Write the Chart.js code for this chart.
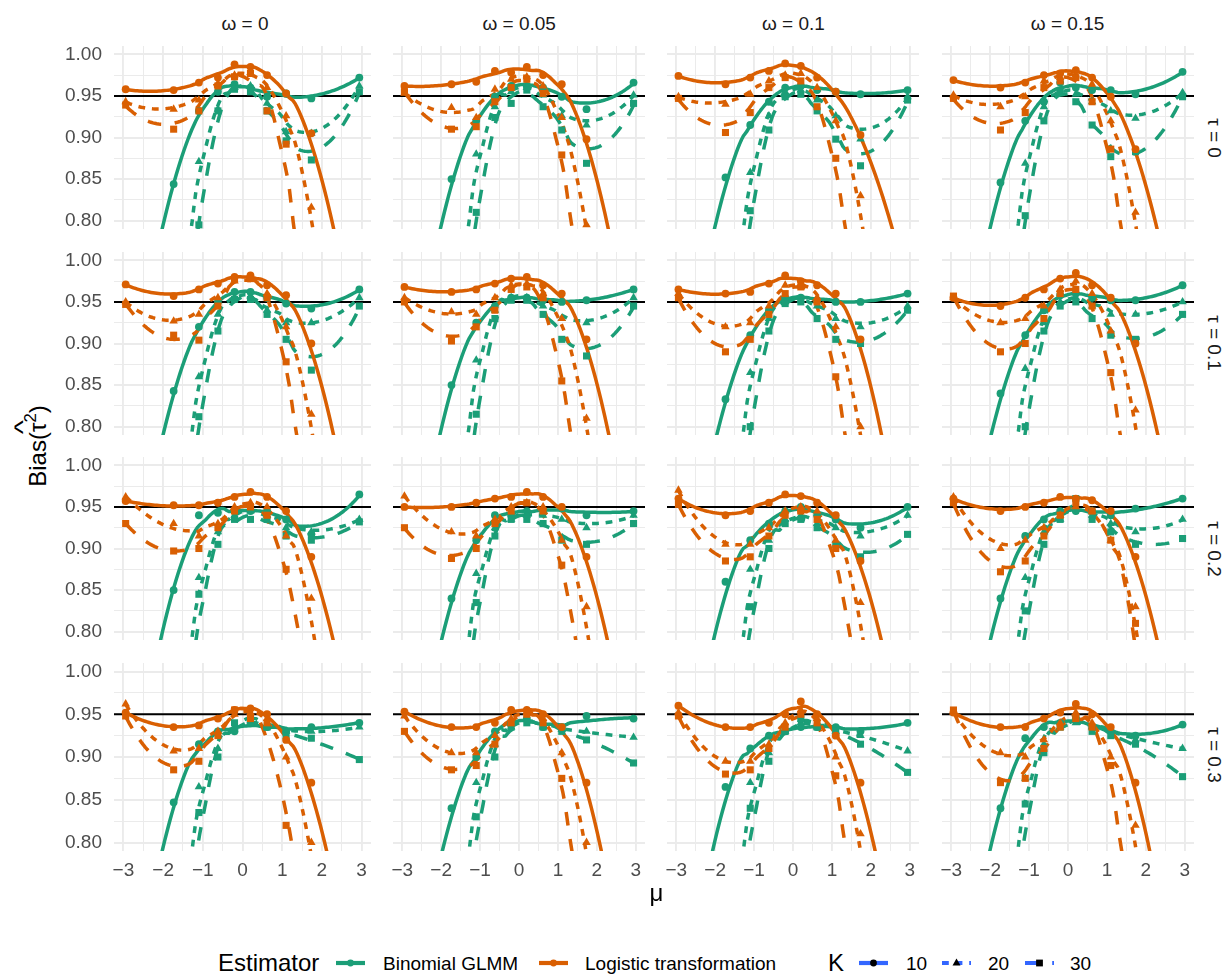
<!DOCTYPE html>
<html>
<head>
<meta charset="utf-8">
<script src="https://cdn.jsdelivr.net/npm/chart.js@4.4.1/dist/chart.umd.min.js"></script>
<style>
  html, body { margin: 0; padding: 0; background: #ffffff; }
  #fig { position: relative; width: 1227px; height: 974px; overflow: hidden;
         font-family: 'Liberation Sans', Arial, Helvetica, sans-serif; }
  #fig canvas { position: absolute; }
  .txt { position: absolute; white-space: nowrap; line-height: 1; }
</style>
</head>
<body>
<div id="fig"></div>
<script>
// ---- simulation design ----
const muValues = [-2.944, -1.735, -1.099, -0.619, -0.201, 0.201, 0.619, 1.099, 1.735, 2.944];
const omegaLabels = ['0', '0.05', '0.1', '0.15'];
const tauLabels = ['0', '0.1', '0.2', '0.3'];
const kLabels = ['10', '20', '30'];
const estimatorNames = ['Binomial GLMM', 'Logistic transformation'];
const referenceLevel = 0.95;
const xTickValues = [-3, -2.5, -2, -1.5, -1, -0.5, 0, 0.5, 1, 1.5, 2, 2.5, 3];
const yTickValues = [0.8, 0.825, 0.85, 0.875, 0.9, 0.925, 0.95, 0.975, 1.0];

// ---- results per panel: rows are K = 10, 20, 30; columns follow muValues ----
// tau = 0
const glmm_tau0_omega0 = [
  [0.55, 0.844, 0.932, 0.955, 0.964, 0.960, 0.949, 0.953, 0.947, 0.972],
  [0.25, 0.62, 0.871, 0.934, 0.960, 0.962, 0.941, 0.907, 0.905, 0.962],
  [0.15, 0.50, 0.795, 0.932, 0.958, 0.955, 0.932, 0.896, 0.873, 0.955]];
const logit_tau0_omega0 = [
  [0.958, 0.957, 0.966, 0.972, 0.988, 0.985, 0.975, 0.953, 0.905, 0.62],
  [0.943, 0.934, 0.945, 0.965, 0.975, 0.978, 0.960, 0.926, 0.816, 0.30],
  [0.939, 0.910, 0.932, 0.962, 0.973, 0.977, 0.932, 0.892, 0.60, 0.15]];
const glmm_tau0_omega1 = [
  [0.55, 0.850, 0.920, 0.949, 0.962, 0.962, 0.960, 0.949, 0.934, 0.966],
  [0.25, 0.62, 0.880, 0.937, 0.955, 0.960, 0.951, 0.926, 0.915, 0.951],
  [0.15, 0.50, 0.810, 0.924, 0.941, 0.957, 0.937, 0.909, 0.869, 0.941]];
const logit_tau0_omega1 = [
  [0.962, 0.964, 0.967, 0.980, 0.978, 0.985, 0.975, 0.964, 0.898, 0.62],
  [0.953, 0.936, 0.924, 0.958, 0.970, 0.973, 0.962, 0.924, 0.795, 0.30],
  [0.955, 0.910, 0.913, 0.943, 0.960, 0.970, 0.953, 0.879, 0.65, 0.15]];
const glmm_tau0_omega2 = [
  [0.55, 0.852, 0.915, 0.943, 0.960, 0.962, 0.957, 0.955, 0.952, 0.957],
  [0.25, 0.62, 0.858, 0.926, 0.955, 0.957, 0.945, 0.926, 0.898, 0.949],
  [0.15, 0.50, 0.812, 0.909, 0.949, 0.952, 0.932, 0.898, 0.866, 0.945]];
const logit_tau0_omega2 = [
  [0.974, 0.964, 0.972, 0.980, 0.989, 0.986, 0.972, 0.955, 0.903, 0.72],
  [0.949, 0.940, 0.952, 0.968, 0.975, 0.977, 0.960, 0.920, 0.830, 0.30],
  [0.947, 0.906, 0.930, 0.960, 0.972, 0.968, 0.937, 0.875, 0.65, 0.15]];
const glmm_tau0_omega3 = [
  [0.55, 0.846, 0.920, 0.943, 0.966, 0.960, 0.957, 0.957, 0.952, 0.979],
  [0.25, 0.62, 0.869, 0.937, 0.957, 0.952, 0.943, 0.932, 0.923, 0.954],
  [0.15, 0.50, 0.806, 0.920, 0.955, 0.943, 0.915, 0.877, 0.883, 0.949]];
const logit_tau0_omega3 = [
  [0.969, 0.960, 0.966, 0.975, 0.977, 0.981, 0.972, 0.949, 0.886, 0.64],
  [0.951, 0.937, 0.949, 0.968, 0.972, 0.975, 0.964, 0.920, 0.810, 0.30],
  [0.947, 0.909, 0.930, 0.960, 0.968, 0.972, 0.943, 0.886, 0.65, 0.15]];
// tau = 0.1
const glmm_tau1_omega0 = [
  [0.55, 0.843, 0.920, 0.950, 0.962, 0.962, 0.955, 0.948, 0.942, 0.965],
  [0.25, 0.62, 0.860, 0.935, 0.955, 0.957, 0.940, 0.925, 0.925, 0.955],
  [0.15, 0.50, 0.812, 0.915, 0.953, 0.953, 0.935, 0.905, 0.868, 0.945]];
const logit_tau1_omega0 = [
  [0.971, 0.957, 0.965, 0.972, 0.980, 0.982, 0.970, 0.958, 0.900, 0.62],
  [0.950, 0.927, 0.935, 0.955, 0.975, 0.977, 0.960, 0.920, 0.815, 0.30],
  [0.947, 0.910, 0.904, 0.945, 0.977, 0.978, 0.955, 0.878, 0.65, 0.15]];
const glmm_tau1_omega1 = [
  [0.55, 0.850, 0.925, 0.945, 0.955, 0.955, 0.952, 0.950, 0.952, 0.965],
  [0.25, 0.62, 0.880, 0.940, 0.955, 0.955, 0.945, 0.930, 0.925, 0.955],
  [0.15, 0.50, 0.815, 0.930, 0.952, 0.952, 0.935, 0.905, 0.885, 0.945]];
const logit_tau1_omega1 = [
  [0.968, 0.962, 0.965, 0.972, 0.978, 0.980, 0.970, 0.960, 0.905, 0.62],
  [0.955, 0.938, 0.935, 0.955, 0.970, 0.972, 0.960, 0.930, 0.810, 0.30],
  [0.950, 0.903, 0.920, 0.940, 0.965, 0.968, 0.955, 0.855, 0.65, 0.15]];
const glmm_tau1_omega2 = [
  [0.55, 0.833, 0.910, 0.940, 0.955, 0.955, 0.952, 0.950, 0.950, 0.960],
  [0.25, 0.62, 0.865, 0.930, 0.950, 0.952, 0.945, 0.930, 0.920, 0.945],
  [0.15, 0.50, 0.800, 0.915, 0.948, 0.950, 0.930, 0.905, 0.900, 0.940]];
const logit_tau1_omega2 = [
  [0.965, 0.960, 0.962, 0.972, 0.982, 0.975, 0.970, 0.960, 0.905, 0.60],
  [0.960, 0.920, 0.925, 0.945, 0.970, 0.972, 0.955, 0.920, 0.800, 0.30],
  [0.955, 0.890, 0.905, 0.935, 0.960, 0.968, 0.950, 0.860, 0.65, 0.15]];
const glmm_tau1_omega3 = [
  [0.55, 0.840, 0.910, 0.940, 0.958, 0.960, 0.955, 0.952, 0.952, 0.970],
  [0.25, 0.62, 0.870, 0.925, 0.950, 0.955, 0.945, 0.935, 0.935, 0.950],
  [0.15, 0.50, 0.800, 0.915, 0.945, 0.950, 0.930, 0.910, 0.905, 0.935]];
const logit_tau1_omega3 = [
  [0.955, 0.945, 0.955, 0.965, 0.978, 0.985, 0.970, 0.955, 0.900, 0.63],
  [0.955, 0.925, 0.930, 0.945, 0.965, 0.975, 0.960, 0.915, 0.820, 0.30],
  [0.957, 0.890, 0.900, 0.930, 0.960, 0.965, 0.945, 0.865, 0.65, 0.15]];
// tau = 0.2
const glmm_tau2_omega0 = [
  [0.55, 0.850, 0.940, 0.943, 0.945, 0.945, 0.945, 0.935, 0.917, 0.965],
  [0.25, 0.62, 0.865, 0.920, 0.940, 0.945, 0.940, 0.925, 0.920, 0.935],
  [0.15, 0.50, 0.845, 0.905, 0.935, 0.935, 0.935, 0.915, 0.910, 0.932]];
const logit_tau2_omega0 = [
  [0.957, 0.952, 0.952, 0.955, 0.962, 0.968, 0.962, 0.945, 0.890, 0.63],
  [0.962, 0.930, 0.915, 0.930, 0.950, 0.955, 0.950, 0.915, 0.840, 0.30],
  [0.930, 0.897, 0.900, 0.925, 0.945, 0.950, 0.940, 0.875, 0.70, 0.15]];
const glmm_tau2_omega1 = [
  [0.55, 0.840, 0.910, 0.940, 0.940, 0.945, 0.945, 0.948, 0.940, 0.945],
  [0.25, 0.62, 0.870, 0.925, 0.935, 0.940, 0.940, 0.935, 0.925, 0.940],
  [0.15, 0.50, 0.835, 0.915, 0.935, 0.935, 0.930, 0.910, 0.905, 0.930]];
const logit_tau2_omega1 = [
  [0.950, 0.950, 0.955, 0.960, 0.962, 0.968, 0.962, 0.950, 0.890, 0.62],
  [0.963, 0.920, 0.915, 0.935, 0.950, 0.955, 0.950, 0.910, 0.830, 0.30],
  [0.925, 0.888, 0.900, 0.930, 0.945, 0.955, 0.945, 0.880, 0.70, 0.15]];
const glmm_tau2_omega2 = [
  [0.55, 0.860, 0.910, 0.930, 0.945, 0.950, 0.940, 0.935, 0.925, 0.950],
  [0.25, 0.62, 0.875, 0.910, 0.935, 0.940, 0.930, 0.925, 0.915, 0.940],
  [0.15, 0.50, 0.830, 0.900, 0.930, 0.935, 0.925, 0.905, 0.890, 0.917]];
const logit_tau2_omega2 = [
  [0.960, 0.940, 0.945, 0.955, 0.965, 0.963, 0.955, 0.940, 0.885, 0.63],
  [0.970, 0.905, 0.905, 0.925, 0.945, 0.950, 0.945, 0.910, 0.835, 0.30],
  [0.953, 0.885, 0.890, 0.915, 0.940, 0.945, 0.935, 0.900, 0.70, 0.15]];
const glmm_tau2_omega3 = [
  [0.55, 0.840, 0.915, 0.935, 0.945, 0.945, 0.945, 0.940, 0.948, 0.960],
  [0.25, 0.62, 0.865, 0.920, 0.935, 0.950, 0.940, 0.930, 0.920, 0.935],
  [0.15, 0.50, 0.825, 0.905, 0.935, 0.960, 0.935, 0.920, 0.905, 0.912]];
const logit_tau2_omega3 = [
  [0.960, 0.945, 0.950, 0.955, 0.962, 0.960, 0.958, 0.945, 0.890, 0.63],
  [0.962, 0.900, 0.910, 0.925, 0.940, 0.950, 0.945, 0.910, 0.830, 0.30],
  [0.955, 0.872, 0.885, 0.915, 0.940, 0.955, 0.945, 0.910, 0.810, 0.15]];
// tau = 0.3
const glmm_tau3_omega0 = [
  [0.55, 0.847, 0.915, 0.930, 0.930, 0.940, 0.935, 0.930, 0.935, 0.940],
  [0.25, 0.62, 0.865, 0.910, 0.935, 0.940, 0.935, 0.930, 0.930, 0.935],
  [0.15, 0.50, 0.835, 0.900, 0.940, 0.945, 0.935, 0.925, 0.922, 0.897]];
const logit_tau3_omega0 = [
  [0.952, 0.935, 0.937, 0.945, 0.955, 0.957, 0.950, 0.920, 0.870, 0.58],
  [0.962, 0.907, 0.910, 0.930, 0.950, 0.952, 0.945, 0.900, 0.800, 0.30],
  [0.948, 0.885, 0.895, 0.925, 0.955, 0.945, 0.940, 0.820, 0.65, 0.15]];
const glmm_tau3_omega1 = [
  [0.55, 0.840, 0.900, 0.930, 0.940, 0.945, 0.935, 0.935, 0.948, 0.945],
  [0.25, 0.62, 0.870, 0.915, 0.935, 0.945, 0.935, 0.932, 0.930, 0.923],
  [0.15, 0.50, 0.830, 0.900, 0.935, 0.940, 0.935, 0.930, 0.920, 0.893]];
const logit_tau3_omega1 = [
  [0.953, 0.935, 0.935, 0.940, 0.955, 0.955, 0.950, 0.935, 0.870, 0.56],
  [0.948, 0.905, 0.905, 0.925, 0.945, 0.952, 0.945, 0.905, 0.800, 0.30],
  [0.930, 0.885, 0.890, 0.915, 0.940, 0.950, 0.940, 0.875, 0.65, 0.15]];
const glmm_tau3_omega2 = [
  [0.55, 0.865, 0.910, 0.925, 0.930, 0.935, 0.935, 0.935, 0.930, 0.940],
  [0.25, 0.62, 0.870, 0.905, 0.930, 0.940, 0.935, 0.930, 0.925, 0.907],
  [0.15, 0.50, 0.840, 0.895, 0.930, 0.945, 0.935, 0.930, 0.915, 0.882]];
const logit_tau3_omega2 = [
  [0.960, 0.935, 0.935, 0.940, 0.950, 0.965, 0.950, 0.925, 0.870, 0.57],
  [0.952, 0.895, 0.895, 0.915, 0.940, 0.955, 0.945, 0.900, 0.810, 0.30],
  [0.948, 0.880, 0.885, 0.910, 0.935, 0.950, 0.940, 0.878, 0.65, 0.15]];
const glmm_tau3_omega3 = [
  [0.55, 0.840, 0.922, 0.935, 0.940, 0.945, 0.935, 0.930, 0.925, 0.938],
  [0.25, 0.62, 0.875, 0.915, 0.935, 0.940, 0.935, 0.930, 0.920, 0.910],
  [0.15, 0.50, 0.845, 0.905, 0.935, 0.945, 0.930, 0.925, 0.915, 0.877]];
const logit_tau3_omega3 = [
  [0.952, 0.935, 0.935, 0.945, 0.952, 0.962, 0.950, 0.935, 0.870, 0.55],
  [0.952, 0.905, 0.900, 0.920, 0.940, 0.952, 0.940, 0.900, 0.820, 0.30],
  [0.955, 0.870, 0.875, 0.910, 0.935, 0.945, 0.935, 0.890, 0.65, 0.15]];

const glmmPanels = [
  [glmm_tau0_omega0, glmm_tau0_omega1, glmm_tau0_omega2, glmm_tau0_omega3],
  [glmm_tau1_omega0, glmm_tau1_omega1, glmm_tau1_omega2, glmm_tau1_omega3],
  [glmm_tau2_omega0, glmm_tau2_omega1, glmm_tau2_omega2, glmm_tau2_omega3],
  [glmm_tau3_omega0, glmm_tau3_omega1, glmm_tau3_omega2, glmm_tau3_omega3]];
const logitPanels = [
  [logit_tau0_omega0, logit_tau0_omega1, logit_tau0_omega2, logit_tau0_omega3],
  [logit_tau1_omega0, logit_tau1_omega1, logit_tau1_omega2, logit_tau1_omega3],
  [logit_tau2_omega0, logit_tau2_omega1, logit_tau2_omega2, logit_tau2_omega3],
  [logit_tau3_omega0, logit_tau3_omega1, logit_tau3_omega2, logit_tau3_omega3]];

// ---- styling ----
const FONT = "'Liberation Sans', Arial, Helvetica, sans-serif";
const estimatorColors = ['#1B9E77', '#D95F02'];
const kDashes = [[], [6.8, 6.8], [13.6, 13.6]];
const kPointStyles = ['circle', 'triangle', 'rect'];
const kPointRadius = [3.9, 4.9, 5.0];
const LINE_W = 3.5;
const GRID = '#EBEBEB';

const PANEL_LEFT = 114, PANEL_TOP = 41, PANEL_W = 262, PANEL_H = 193;
const STEP_X = 274.2, STEP_Y = 205.7;
const Y_AXIS_W = 60, X_AXIS_H = 40;
const X_LIM = 3.238, Y_MIN = 0.79, Y_MAX = 1.01;

Chart.defaults.font.family = FONT;

// local quadratic regression with tricube weights (span 0.75)
function loessFit(xs, ys, span, grid) {
  const n = xs.length;
  const q = Math.floor(n * span);
  return grid.map(x0 => {
    const d = xs.map(x => Math.abs(x - x0));
    const h = d.slice().sort((a, b) => a - b)[q - 1] * 1.0000001;
    const S = [[0, 0, 0], [0, 0, 0], [0, 0, 0]];
    const B = [0, 0, 0];
    for (let i = 0; i < n; i++) {
      const u = d[i] / h;
      if (u >= 1) continue;
      const w = Math.pow(1 - u * u * u, 3);
      const t = xs[i] - x0;
      const basis = [1, t, t * t];
      for (let a = 0; a < 3; a++) {
        B[a] += w * basis[a] * ys[i];
        for (let b = 0; b < 3; b++) S[a][b] += w * basis[a] * basis[b];
      }
    }
    // Gaussian elimination
    const M = S.map((row, i) => row.concat([B[i]]));
    for (let c = 0; c < 3; c++) {
      let p = c;
      for (let r = c + 1; r < 3; r++) if (Math.abs(M[r][c]) > Math.abs(M[p][c])) p = r;
      [M[c], M[p]] = [M[p], M[c]];
      for (let r = c + 1; r < 3; r++) {
        const f = M[r][c] / M[c][c];
        for (let k = c; k < 4; k++) M[r][k] -= f * M[c][k];
      }
    }
    const sol = [0, 0, 0];
    for (let r = 2; r >= 0; r--) {
      let s = M[r][3];
      for (let k = r + 1; k < 3; k++) s -= M[r][k] * sol[k];
      sol[r] = s / M[r][r];
    }
    return sol[0];
  });
}

const fitGrid = [];
for (let i = 0; i <= 120; i++) fitGrid.push(muValues[0] + (muValues[muValues.length - 1] - muValues[0]) * i / 120);

const fig = document.getElementById('fig');

function addText(html, x, y, opts) {
  const el = document.createElement('div');
  el.className = 'txt';
  el.innerHTML = html;
  el.style.left = x + 'px';
  el.style.top = y + 'px';
  el.style.fontSize = (opts.size || 19) + 'px';
  el.style.color = opts.color || '#000';
  const anchor = opts.anchor || 'center';
  const tx = anchor === 'left' ? '0' : '-50%';
  el.style.transform = `translate(${tx},-50%)` + (opts.rotate ? ` rotate(${opts.rotate}deg)` : '');
  fig.appendChild(el);
  return el;
}

const minusFmt = v => (v < 0 ? '\u2212' + Math.abs(v) : String(v));
const isMajorX = v => Math.abs(v - Math.round(v)) < 1e-9;
const isMajorY = v => Math.abs(v * 20 - Math.round(v * 20)) < 1e-6;

function buildPanel(r, c) {
  const axisW = c === 0 ? Y_AXIS_W : 0;
  const axisH = r === 3 ? X_AXIS_H : 0;
  const left = Math.round(PANEL_LEFT + c * STEP_X);
  const top = Math.round(PANEL_TOP + r * STEP_Y);
  const cv = document.createElement('canvas');
  cv.width = PANEL_W + axisW;
  cv.height = PANEL_H + axisH;
  cv.style.left = (left - axisW) + 'px';
  cv.style.top = top + 'px';
  fig.appendChild(cv);

  const datasets = [];
  // reference coverage level
  datasets.push({
    type: 'scatter', showLine: true, data: [{ x: -X_LIM, y: referenceLevel }, { x: X_LIM, y: referenceLevel }],
    borderColor: '#000000', borderWidth: 2, pointRadius: 0, order: 1000, clip: 0
  });
  const sources = [glmmPanels[r][c], logitPanels[r][c]];
  sources.forEach((rows, e) => {
    rows.forEach((vals, k) => {
      const fit = loessFit(muValues, vals, 0.75, fitGrid);
      datasets.push({
        type: 'scatter', showLine: true,
        data: fitGrid.map((x, i) => ({ x, y: fit[i] })),
        borderColor: estimatorColors[e], borderWidth: LINE_W, borderDash: kDashes[k],
        borderCapStyle: 'butt', borderJoinStyle: 'round',
        pointRadius: 0, tension: 0, order: 600 - e * 10 - k, clip: 0
      });
      datasets.push({
        type: 'scatter', showLine: false,
        data: muValues.map((x, i) => ({ x, y: vals[i] })),
        pointStyle: kPointStyles[k], pointRadius: kPointRadius[k],
        backgroundColor: estimatorColors[e], borderColor: estimatorColors[e], borderWidth: 0,
        order: 300 - e * 10 - k, clip: 0
      });
    });
  });

  new Chart(cv, {
    type: 'scatter',
    data: { datasets },
    options: {
      responsive: false, animation: false, devicePixelRatio: 1,
      layout: { padding: 0 },
      plugins: { legend: { display: false }, tooltip: { enabled: false } },
      events: [],
      scales: {
        x: {
          type: 'linear', min: -X_LIM, max: X_LIM,
          afterBuildTicks: s => { s.ticks = xTickValues.map(v => ({ value: v })); },
          afterFit: s => { s.height = axisH; s.paddingLeft = 0; s.paddingRight = 0; },
          border: { display: false },
          grid: { color: GRID, drawTicks: false, lineWidth: ctx => (ctx.tick && isMajorX(ctx.tick.value) ? 1.9 : 1.0) },
          ticks: {
            display: r === 3, autoSkip: false, maxRotation: 0, padding: 8,
            color: '#4D4D4D', font: { size: 19, family: FONT },
            callback: v => (isMajorX(v) ? minusFmt(Math.round(v)) : '')
          }
        },
        y: {
          type: 'linear', min: Y_MIN, max: Y_MAX,
          afterBuildTicks: s => { s.ticks = yTickValues.map(v => ({ value: v })); },
          afterFit: s => { s.width = axisW; s.paddingTop = 0; s.paddingBottom = 0; },
          border: { display: false },
          grid: { color: GRID, drawTicks: false, lineWidth: ctx => (ctx.tick && isMajorY(ctx.tick.value) ? 1.9 : 1.0) },
          ticks: {
            display: c === 0, autoSkip: false, padding: 12,
            color: '#4D4D4D', font: { size: 19, family: FONT },
            callback: v => (isMajorY(v) ? v.toFixed(2) : '')
          }
        }
      }
    }
  });
}

for (let r = 0; r < 4; r++) for (let c = 0; c < 4; c++) buildPanel(r, c);

// facet strips
omegaLabels.forEach((lab, c) => {
  const cx = PANEL_LEFT + c * STEP_X + PANEL_W / 2;
  addText('\u03c9 = ' + lab, cx, 23, { size: 19, color: '#1A1A1A' });
});
tauLabels.forEach((lab, r) => {
  const cy = PANEL_TOP + r * STEP_Y + PANEL_H / 2;
  addText('\u03c4 = ' + lab, 1214, cy, { size: 19, color: '#1A1A1A', rotate: 90 });
});

// axis titles
addText('\u03bc', PANEL_LEFT + (3 * STEP_X + PANEL_W) / 2, 893, { size: 24 });
addText('Bias(<span style="position:relative;display:inline-block">\u03c4' +
  '<span style="position:absolute;left:-0.05em;top:-0.62em;font-size:1em;transform:scaleX(1.25)">^</span></span>' +
  '<span style="font-size:0.7em;position:relative;top:-0.62em">2</span>)',
  38, 446, { size: 24, rotate: -90 });

// legend
function legendKey(x0, color, dash, style, markColor) {
  const cv = document.createElement('canvas');
  cv.width = 40; cv.height = 20;
  cv.style.left = (x0 - 5) + 'px';
  cv.style.top = '953px';
  fig.appendChild(cv);
  const g = cv.getContext('2d');
  g.strokeStyle = color; g.lineWidth = 4.2; g.lineCap = 'butt';
  g.setLineDash(dash);
  g.beginPath(); g.moveTo(5, 10); g.lineTo(34, 10); g.stroke();
  g.setLineDash([]);
  g.fillStyle = markColor;
  const cx = 19.5, cy = 10;
  g.beginPath();
  if (style === 'circle') { g.arc(cx, cy, 3.4, 0, Math.PI * 2); }
  else if (style === 'triangle') { g.moveTo(cx, cy - 4.6); g.lineTo(cx + 4.0, cy + 2.4); g.lineTo(cx - 4.0, cy + 2.4); g.closePath(); }
  else { g.rect(cx - 3.4, cy - 3.4, 6.8, 6.8); }
  g.fill();
}
addText('Estimator', 218, 963, { size: 24, anchor: 'left' });
legendKey(336, estimatorColors[0], [], 'circle', estimatorColors[0]);
addText(estimatorNames[0], 383, 963, { size: 19, anchor: 'left' });
legendKey(539, estimatorColors[1], [], 'circle', estimatorColors[1]);
addText(estimatorNames[1], 585, 963, { size: 19, anchor: 'left' });
addText('K', 828, 963, { size: 24, anchor: 'left' });
const kKeyX = [859, 942, 1025];
const kLabelX = [906, 988, 1070];
kLabels.forEach((lab, k) => {
  legendKey(kKeyX[k], '#3366FF', kDashes[k], kPointStyles[k], '#000000');
  addText(lab, kLabelX[k], 963, { size: 19, anchor: 'left' });
});
</script>
</body>
</html>
